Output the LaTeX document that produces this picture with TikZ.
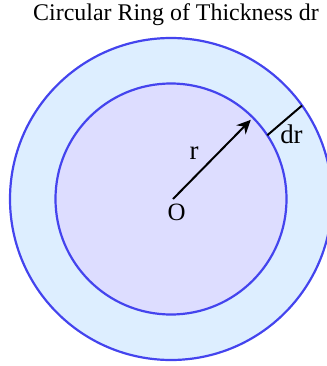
\documentclass[tikz,border=0pt]{standalone}
\usepackage{fontspec}
\setmainfont{Liberation Serif}
\usetikzlibrary{arrows.meta,calc}
\definecolor{ringfill}{RGB}{221,238,255}
\definecolor{diskfill}{RGB}{221,221,255}
\definecolor{ringline}{RGB}{68,68,238}
\tikzset{
  lbl/.style={font=\fontsize{24}{28}\selectfont, inner sep=0pt},
  biglbl/.style={font=\fontsize{27}{31}\selectfont, inner sep=0pt},
  circ/.style={draw=ringline, line width=2.2bp},
}
\begin{document}
\begin{tikzpicture}[x=1bp,y=-1bp]
\useasboundingbox (0,0) rectangle (327,366);
\clip (0,0) rectangle (327,366);
\coordinate (c) at (171,199);
\fill[ringfill] (c) circle[radius=161bp];
\fill[diskfill] (c) circle[radius=115.5bp];
\draw[circ] (c) circle[radius=161bp];
\draw[circ] (c) circle[radius=115.5bp];
\coordinate (o) at (173,199);
\coordinate (tip) at ($(o)+(45.5:111bp)$);
\draw[line width=2bp, -{Stealth[length=14bp,width=13bp]}] (o) -- (tip);
\coordinate (d1) at ($(c)+(33.5:115.5bp)$);
\coordinate (d2) at ($(c)+(35.5:161bp)$);
\draw[line width=2bp] (d1) -- (d2);
\node[lbl, anchor=base] (title) at (176,20.7) {Circular Ring of Thickness dr};
\node[biglbl] (rl) at (194,153) {r};
\node[biglbl] (drl) at (291.5,134) {dr};
\node[lbl, font=\fontsize{25}{29}\selectfont] (ol) at (176.5,212) {O};
\end{tikzpicture}
\end{document}
